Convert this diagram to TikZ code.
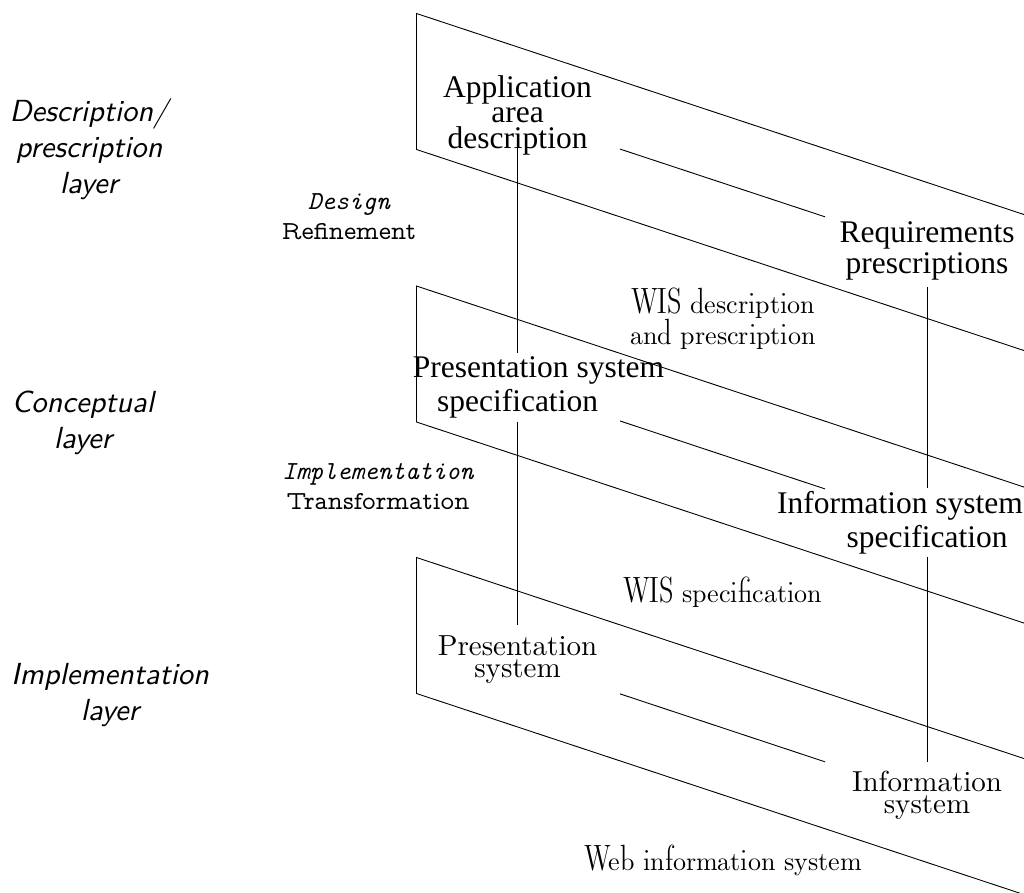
\documentclass[tikz,border=0pt]{standalone}
\usepackage{fontspec}
\newfontfamily\timesf{Liberation Serif}
\newfontfamily\lmten[Extension=.otf]{lmroman10-regular}
\newfontfamily\dunh[Extension=.otf]{lmromandunh10-regular}
\newfontfamily\sansob[Extension=.otf]{lmsans10-oblique}
\newfontfamily\ttit[Extension=.otf]{lmmono10-italic}
\newfontfamily\ttprop[Extension=.otf]{lmmonoprop10-regular}
\tikzset{
  tnode/.style={inner sep=0pt, align=center},
  plane/.style={line width=0.9pt},
  conn/.style={line width=0.9pt},
}
\begin{document}
\begin{tikzpicture}[x=1pt,y=-1pt]
\useasboundingbox (0,0) rectangle (1024,892);
\begin{scope}
\clip (0,0) rectangle (1024,892);
\draw[plane] (1100,239.7) -- (416.5,13.5) -- (416.5,149.5) -- (1100,375.7);
\draw[plane] (1100,512.2) -- (416.5,286) -- (416.5,422) -- (1100,648.2);
\draw[plane] (1100,783.7) -- (416.5,557.5) -- (416.5,693.5) -- (1100,919.7);
\end{scope}

% upper nodes
\node[tnode, font=\timesf\fontsize{31.5}{25.5}\selectfont] (app) at (517.5,115.2) {Application\\area\\description};
\node[tnode, font=\timesf\fontsize{31.5}{31}\selectfont] (req) at (927,250.5) {Requirements\\prescriptions};
\node[tnode, font=\timesf\fontsize{31.5}{34}\selectfont] (presspec) at (517.5,387) {\hspace*{42pt}Presentation system\\specification};
\node[tnode, font=\timesf\fontsize{31.5}{34}\selectfont] (infospec) at (927,522.7) {Information system\hspace*{54pt}\\specification};
\node[tnode, font=\lmten\fontsize{29}{22}\selectfont] (pressys) at (517.5,659.9) {Presentation\\system};
\node[tnode, font=\lmten\fontsize{29}{22}\selectfont] (infosys) at (927,795.6) {Information\\system};

% plane titles
\node[tnode, font=\dunh\fontsize{26}{31}\selectfont] (wisdesc) at (723,318.5) {WIS description\\and prescription};
\node[tnode, anchor=base, font=\dunh\fontsize{26}{31}\selectfont] (wisspec) at (722.5,602) {WIS specification};
\node[tnode, anchor=base, font=\dunh\fontsize{26}{31}\selectfont] (web) at (723,870) {Web information system};

% layer labels
\node[tnode, font=\sansob\fontsize{30.5}{36}\selectfont] (lay1) at (89,149.5) {Description/\\prescription\\layer};
\node[tnode, font=\sansob\fontsize{30.5}{36}\selectfont] (lay2) at (83,422.5) {Conceptual\\layer};
\node[tnode, font=\sansob\fontsize{30.5}{36}\selectfont] (lay3) at (110,695.5) {Implementation\\layer};

% step labels
\node[tnode, font=\fontsize{26}{30}\selectfont] (design) at (349,217) {{\ttit Design}\\{\ttprop Refinement}};
\node[tnode, font=\fontsize{26}{30}\selectfont] (impl) at (378,486.5) {{\ttit Implementation}\\{\ttprop Transformation}};

% connectors within planes
\draw[conn, shorten <=108pt, shorten >=107.4pt] (app.center) -- (req.center);
\draw[conn, shorten <=108pt, shorten >=107.4pt] (presspec.center) -- (infospec.center);
\draw[conn, shorten <=108pt, shorten >=107.4pt] (pressys.center) -- (infosys.center);

% connectors between planes
\draw[conn, shorten <=32.8pt, shorten >=34pt] (app.center) -- (presspec.center);
\draw[conn, shorten <=35pt, shorten >=34.9pt] (presspec.center) -- (pressys.center);
\draw[conn, shorten <=36.5pt, shorten >=34.7pt] (req.center) -- (infospec.center);
\draw[conn, shorten <=34.3pt, shorten >=33.6pt] (infospec.center) -- (infosys.center);
\end{tikzpicture}
\end{document}
